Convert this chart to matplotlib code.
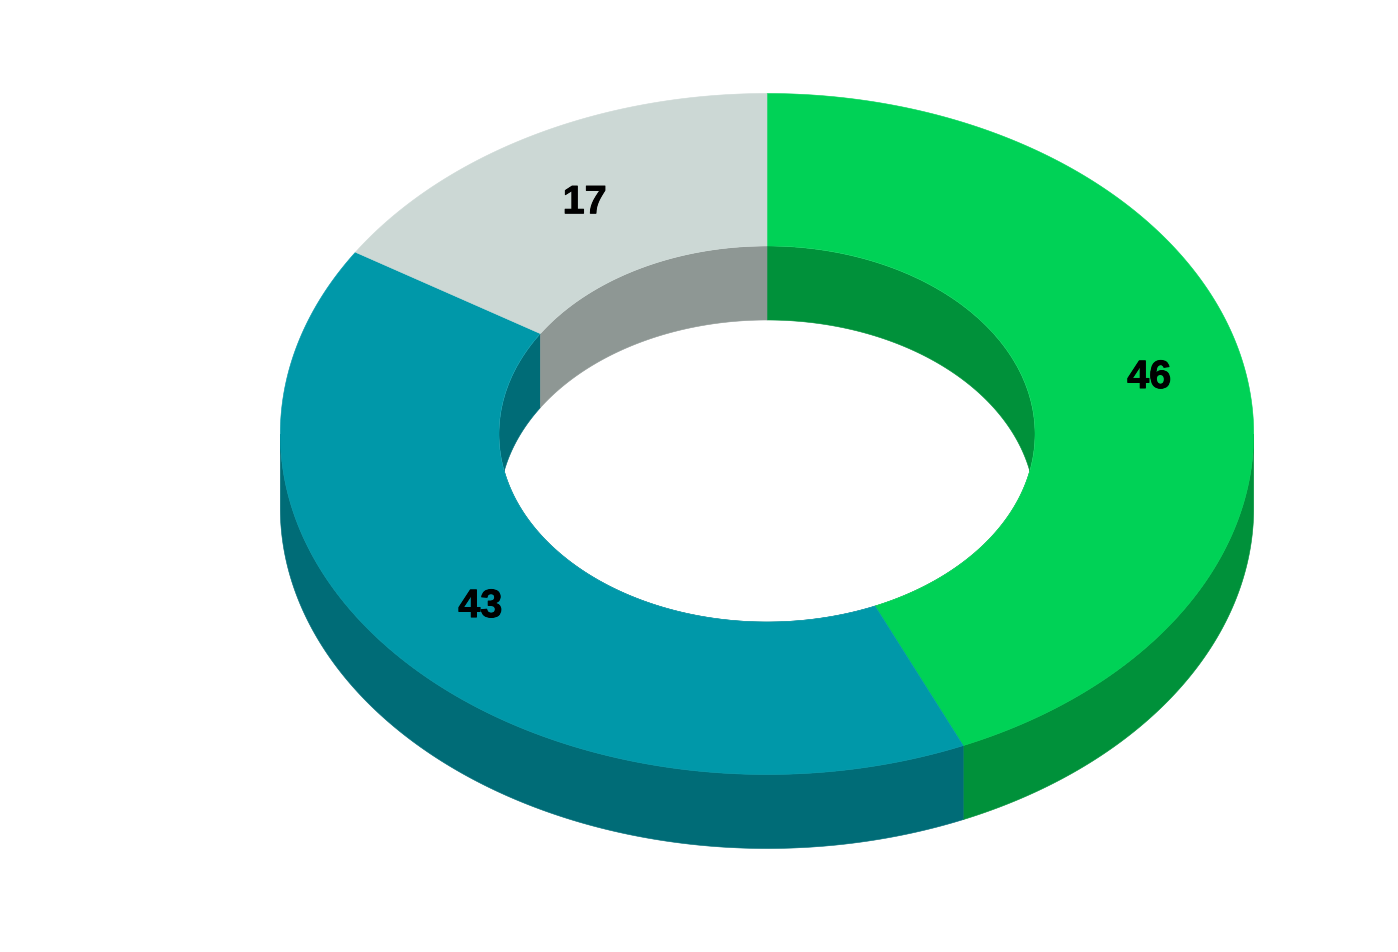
import matplotlib
matplotlib.use("Agg")
import matplotlib.pyplot as plt
import matplotlib.patheffects as pe
import numpy as np
from matplotlib.patches import Ellipse, Polygon

plt.rcParams["text.hinting"] = "no_hinting"
plt.rcParams["text.hinting_factor"] = 1

VALUES = [46, 43, 17]
TOP_COLORS = ["#00D256", "#0098A9", "#CCD8D5"]
SIDE_COLORS = ["#00913A", "#006C77", "#8E9794"]
LABEL_RADII = [0.803, 0.777, 0.775]

# ring geometry in image pixels
CX, CY = 767, 434
RX_OUT, RY_OUT = 486.7, 340.5
RX_IN, RY_IN = 268, 188
DEPTH = 74


def ring_xy(theta, rx, ry, dy=0.0):
    # theta runs clockwise from 12 o'clock
    return np.column_stack([CX + rx * np.sin(theta), CY - ry * np.cos(theta) + dy])


def add_poly(ax, pts, color, z, clip=None):
    p = Polygon(pts, closed=True, facecolor=color, edgecolor=color, linewidth=0.4, zorder=z)
    ax.add_patch(p)
    if clip is not None:
        p.set_clip_path(clip)
    return p


fig = plt.figure(figsize=(13.98, 9.52), dpi=100, facecolor="white")
ax = fig.add_axes([0, 0, 1, 1])
ax.set_xlim(0, 1398)
ax.set_ylim(952, 0)
ax.axis("off")

edges = np.concatenate([[0], np.cumsum(VALUES)]) / sum(VALUES) * 2 * np.pi

# outer side wall, only the front half is visible
for i in range(len(VALUES)):
    lo = max(edges[i], np.pi / 2)
    hi = min(edges[i + 1], 3 * np.pi / 2)
    if hi <= lo:
        continue
    t = np.linspace(lo, hi, 300)
    pts = np.vstack([ring_xy(t, RX_OUT, RY_OUT), ring_xy(t[::-1], RX_OUT, RY_OUT, DEPTH)])
    add_poly(ax, pts, SIDE_COLORS[i], 1)

# hole, then the inner wall clipped to it
hole = Ellipse((CX, CY), 2 * RX_IN, 2 * RY_IN, facecolor="white", edgecolor="none", zorder=2)
ax.add_patch(hole)
for i in range(len(VALUES)):
    t = np.linspace(edges[i], edges[i + 1], 300)
    pts = np.vstack([ring_xy(t, RX_IN, RY_IN), ring_xy(t[::-1], RX_IN, RY_IN, DEPTH)])
    add_poly(ax, pts, SIDE_COLORS[i], 3, clip=hole)

# top face
for i in range(len(VALUES)):
    t = np.linspace(edges[i], edges[i + 1], 300)
    pts = np.vstack([ring_xy(t, RX_OUT, RY_OUT), ring_xy(t[::-1], RX_IN, RY_IN)])
    add_poly(ax, pts, TOP_COLORS[i], 4)

for i, val in enumerate(VALUES):
    mid = (edges[i] + edges[i + 1]) / 2
    x, y = ring_xy(np.array([mid]), RX_OUT * LABEL_RADII[i], RY_OUT * LABEL_RADII[i])[0]
    txt = ax.text(x, y, str(val), ha="center", va="center", fontsize=28.5, fontweight="bold",
                  family="Liberation Sans", color="black", zorder=5)
    txt.set_path_effects([pe.withStroke(linewidth=0.7, foreground="black")])

fig.savefig("out.png", dpi=100, facecolor="white")
